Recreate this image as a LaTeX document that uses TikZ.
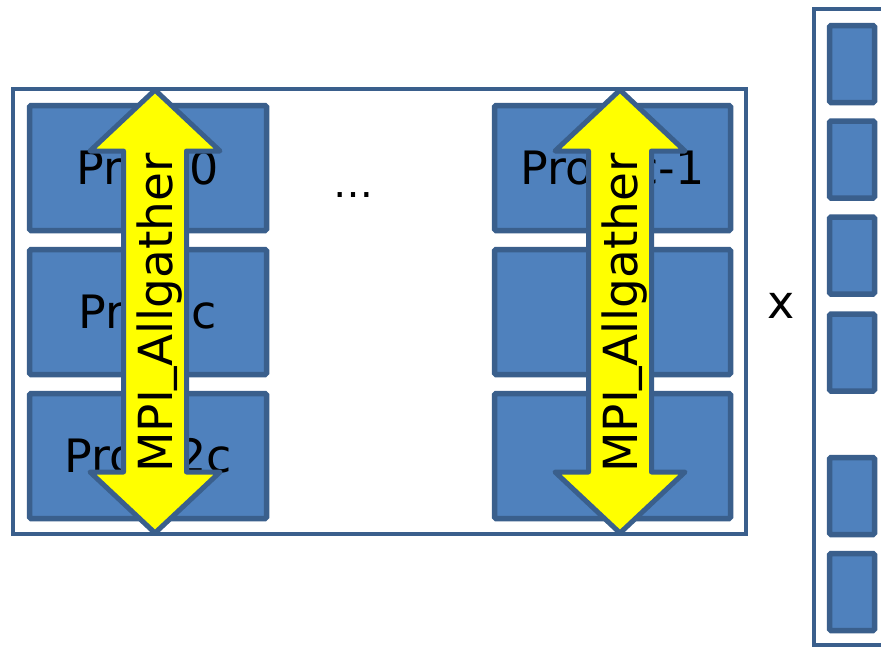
\documentclass[tikz,border=0pt]{standalone}
\usepackage{fontspec}
\setmainfont{DejaVu Sans}
\begin{document}
\begin{tikzpicture}[x=1pt,y=-1pt,
  frame/.style={draw=boxline, line width=4.5pt, fill=white},
  cell/.style={draw=boxline, fill=boxfill, line width=5.5pt, rounded corners=1.5pt,
    inner sep=0pt, outer sep=0pt, font=\fontsize{46}{50}\selectfont},
  vcell/.style={cell, minimum width=45pt, minimum height=77pt},
  bigcell/.style={cell, minimum height=125pt},
  arrowshape/.style={draw=boxline, fill=arrowyellow, line width=5pt, line join=round},
  arrowlabel/.style={rotate=90, anchor=base, inner sep=0pt, font=\fontsize{47}{50}\selectfont},
  plain/.style={inner sep=0pt}
]
\definecolor{boxfill}{HTML}{4F81BD}
\definecolor{boxline}{HTML}{3A5F8C}
\definecolor{arrowyellow}{HTML}{FFFF00}
\useasboundingbox (0,0) rectangle (881,648);
\clip (0,0) rectangle (881,648);

% left matrix frame
\node[frame, inner sep=0pt, outer sep=0pt, minimum width=733pt, minimum height=445pt] (mat) at (379.5,311.5) {};

% process boxes
\node[bigcell, minimum width=237pt] (p0) at (148,168) {Proc 0};
\node[bigcell, minimum width=237pt] (pc) at (148,312) {Proc c};
\node[bigcell, minimum width=237pt] (p2c) at (148,456) {Proc 2c};
\node[bigcell, minimum width=236pt] (pc1) at (612.5,168) {Proc c-1};
\node[bigcell, minimum width=236pt] (r2) at (612.5,312) {};
\node[bigcell, minimum width=236pt] (r3) at (612.5,456) {};

% dots
\node[plain, font=\fontsize{40}{44}\selectfont, anchor=base] (dots) at (353,197) {…};

% allgather arrows
\foreach \cx/\nm in {155/la, 620/ra}{
  \draw[arrowshape] (\cx,90) -- (\cx+65,151) -- (\cx+31.5,151) -- (\cx+31.5,472)
     -- (\cx+65,472) -- (\cx,533) -- (\cx-65,472) -- (\cx-31.5,472)
     -- (\cx-31.5,151) -- (\cx-65,151) -- cycle;
  \node[arrowlabel] (\nm) at (\cx+17,313) {MPI\raisebox{6pt}{\_}Allgather};
}

% times sign
\node[plain, font=\fontsize{46}{50}\selectfont] (times) at (781,306) {x};

% vector frame
\draw[frame] (814,9) -- (814,645) -- (900,645) -- (900,9) -- cycle;
\node[vcell] (v1) at (852,64) {};
\node[vcell] (v2) at (852,159.5) {};
\node[vcell] (v3) at (852,255.5) {};
\node[vcell] (v4) at (852,352.5) {};
\node[vcell] (v5) at (852,496) {};
\node[vcell] (v6) at (852,592) {};
\end{tikzpicture}
\end{document}
